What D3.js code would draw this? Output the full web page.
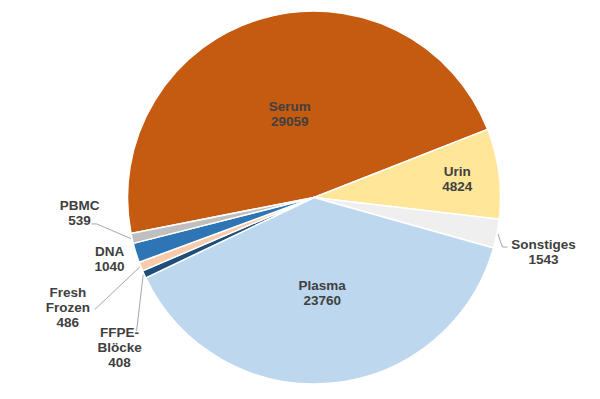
<!DOCTYPE html>
<html>
<head>
<meta charset="utf-8">
<script src="https://cdn.jsdelivr.net/npm/d3@7"></script>
<style>
  html, body { margin: 0; padding: 0; background: #fff; }
  svg { display: block; }
</style>
</head>
<body>
<svg id="chart" width="600" height="399"></svg>
<script>
// ---- data ----
const categories = ["Serum", "Urin", "Sonstiges", "Plasma", "FFPE-Blöcke", "Fresh Frozen", "DNA", "PBMC"];
const values = [29059, 4824, 1543, 23760, 408, 486, 1040, 539];
const labelLines = [["Serum"], ["Urin"], ["Sonstiges"], ["Plasma"], ["FFPE-", "Blöcke"], ["Fresh", "Frozen"], ["DNA"], ["PBMC"]];

// ---- styles / layout ----
const colors = ["#C55A11", "#FFE699", "#EFEFEF", "#BDD7EE", "#1F4E79", "#F8CBAD", "#2E75B6", "#BFBFBF"];
// label placement: inside labels via radius factor k; outside labels via offset from the slice's outer edge point
const labelLayout = [
  { k: 0.465 },
  { k: 0.775 },
  { dx: 46.5, dy: 17.7, leader: [[-41, -4.5], [-36, -4.5]] },
  { k: 0.515 },
  { dx: -24.5, dy: 73, leader: [[17, -16.5]] },
  { dx: -73, dy: 41, leader: [[27, 2]] },
  { dx: -26.4, dy: 5.5 },
  { dx: -52.5, dy: -26, leader: [[17, 11.5], [12, 11.5]] }
];

const cx = 314, cy = 197.5, R = 186.5;
const startDeg = -101.1;
const lineH = 15;

const svg = d3.select("#chart");
const g = svg.append("g").attr("transform", `translate(${cx},${cy})`);

const data = categories.map((c, i) => ({ name: c, value: values[i], lines: labelLines[i], color: colors[i], layout: labelLayout[i] }));

const pie = d3.pie()
  .sort(null)
  .value(d => d.value)
  .startAngle(startDeg * Math.PI / 180)
  .endAngle((startDeg + 360) * Math.PI / 180);

const arcs = pie(data);
const arc = d3.arc().innerRadius(0).outerRadius(R);

g.selectAll("path.slice")
  .data(arcs)
  .join("path")
  .attr("class", "slice")
  .attr("d", arc)
  .attr("fill", d => d.data.color)
  .attr("stroke", "#fff")
  .attr("stroke-width", 1.5)
  .attr("stroke-linejoin", "round");

function polar(angle, r) {
  return [r * Math.sin(angle), -r * Math.cos(angle)];
}

arcs.forEach(a => {
  const mid = (a.startAngle + a.endAngle) / 2;
  const L = a.data.layout;
  let center;
  if (L.k !== undefined) {
    center = polar(mid, L.k * R);
  } else {
    const e = polar(mid, R);
    center = [e[0] + L.dx, e[1] + L.dy];
    if (L.leader) {
      const start = polar(mid, R + 1);
      const pts = [start].concat(L.leader.map(p => [center[0] + p[0], center[1] + p[1]]));
      g.append("path")
        .attr("d", d3.line()(pts))
        .attr("fill", "none")
        .attr("stroke", "#A6A6A6")
        .attr("stroke-width", 1);
    }
  }
  const lines = a.data.lines.concat([String(a.data.value)]);
  const n = lines.length;
  const t = g.append("text")
    .attr("text-anchor", "middle")
    .attr("font-family", "'Liberation Sans', Arial, sans-serif")
    .attr("font-weight", "bold")
    .attr("font-size", "13.5px")
    .attr("fill", "#404040");
  lines.forEach((ln, i) => {
    t.append("tspan")
      .attr("x", center[0])
      .attr("y", center[1] + (i - (n - 1) / 2) * lineH)
      .attr("dy", "0.35em")
      .text(ln);
  });
});
</script>
</body>
</html>
